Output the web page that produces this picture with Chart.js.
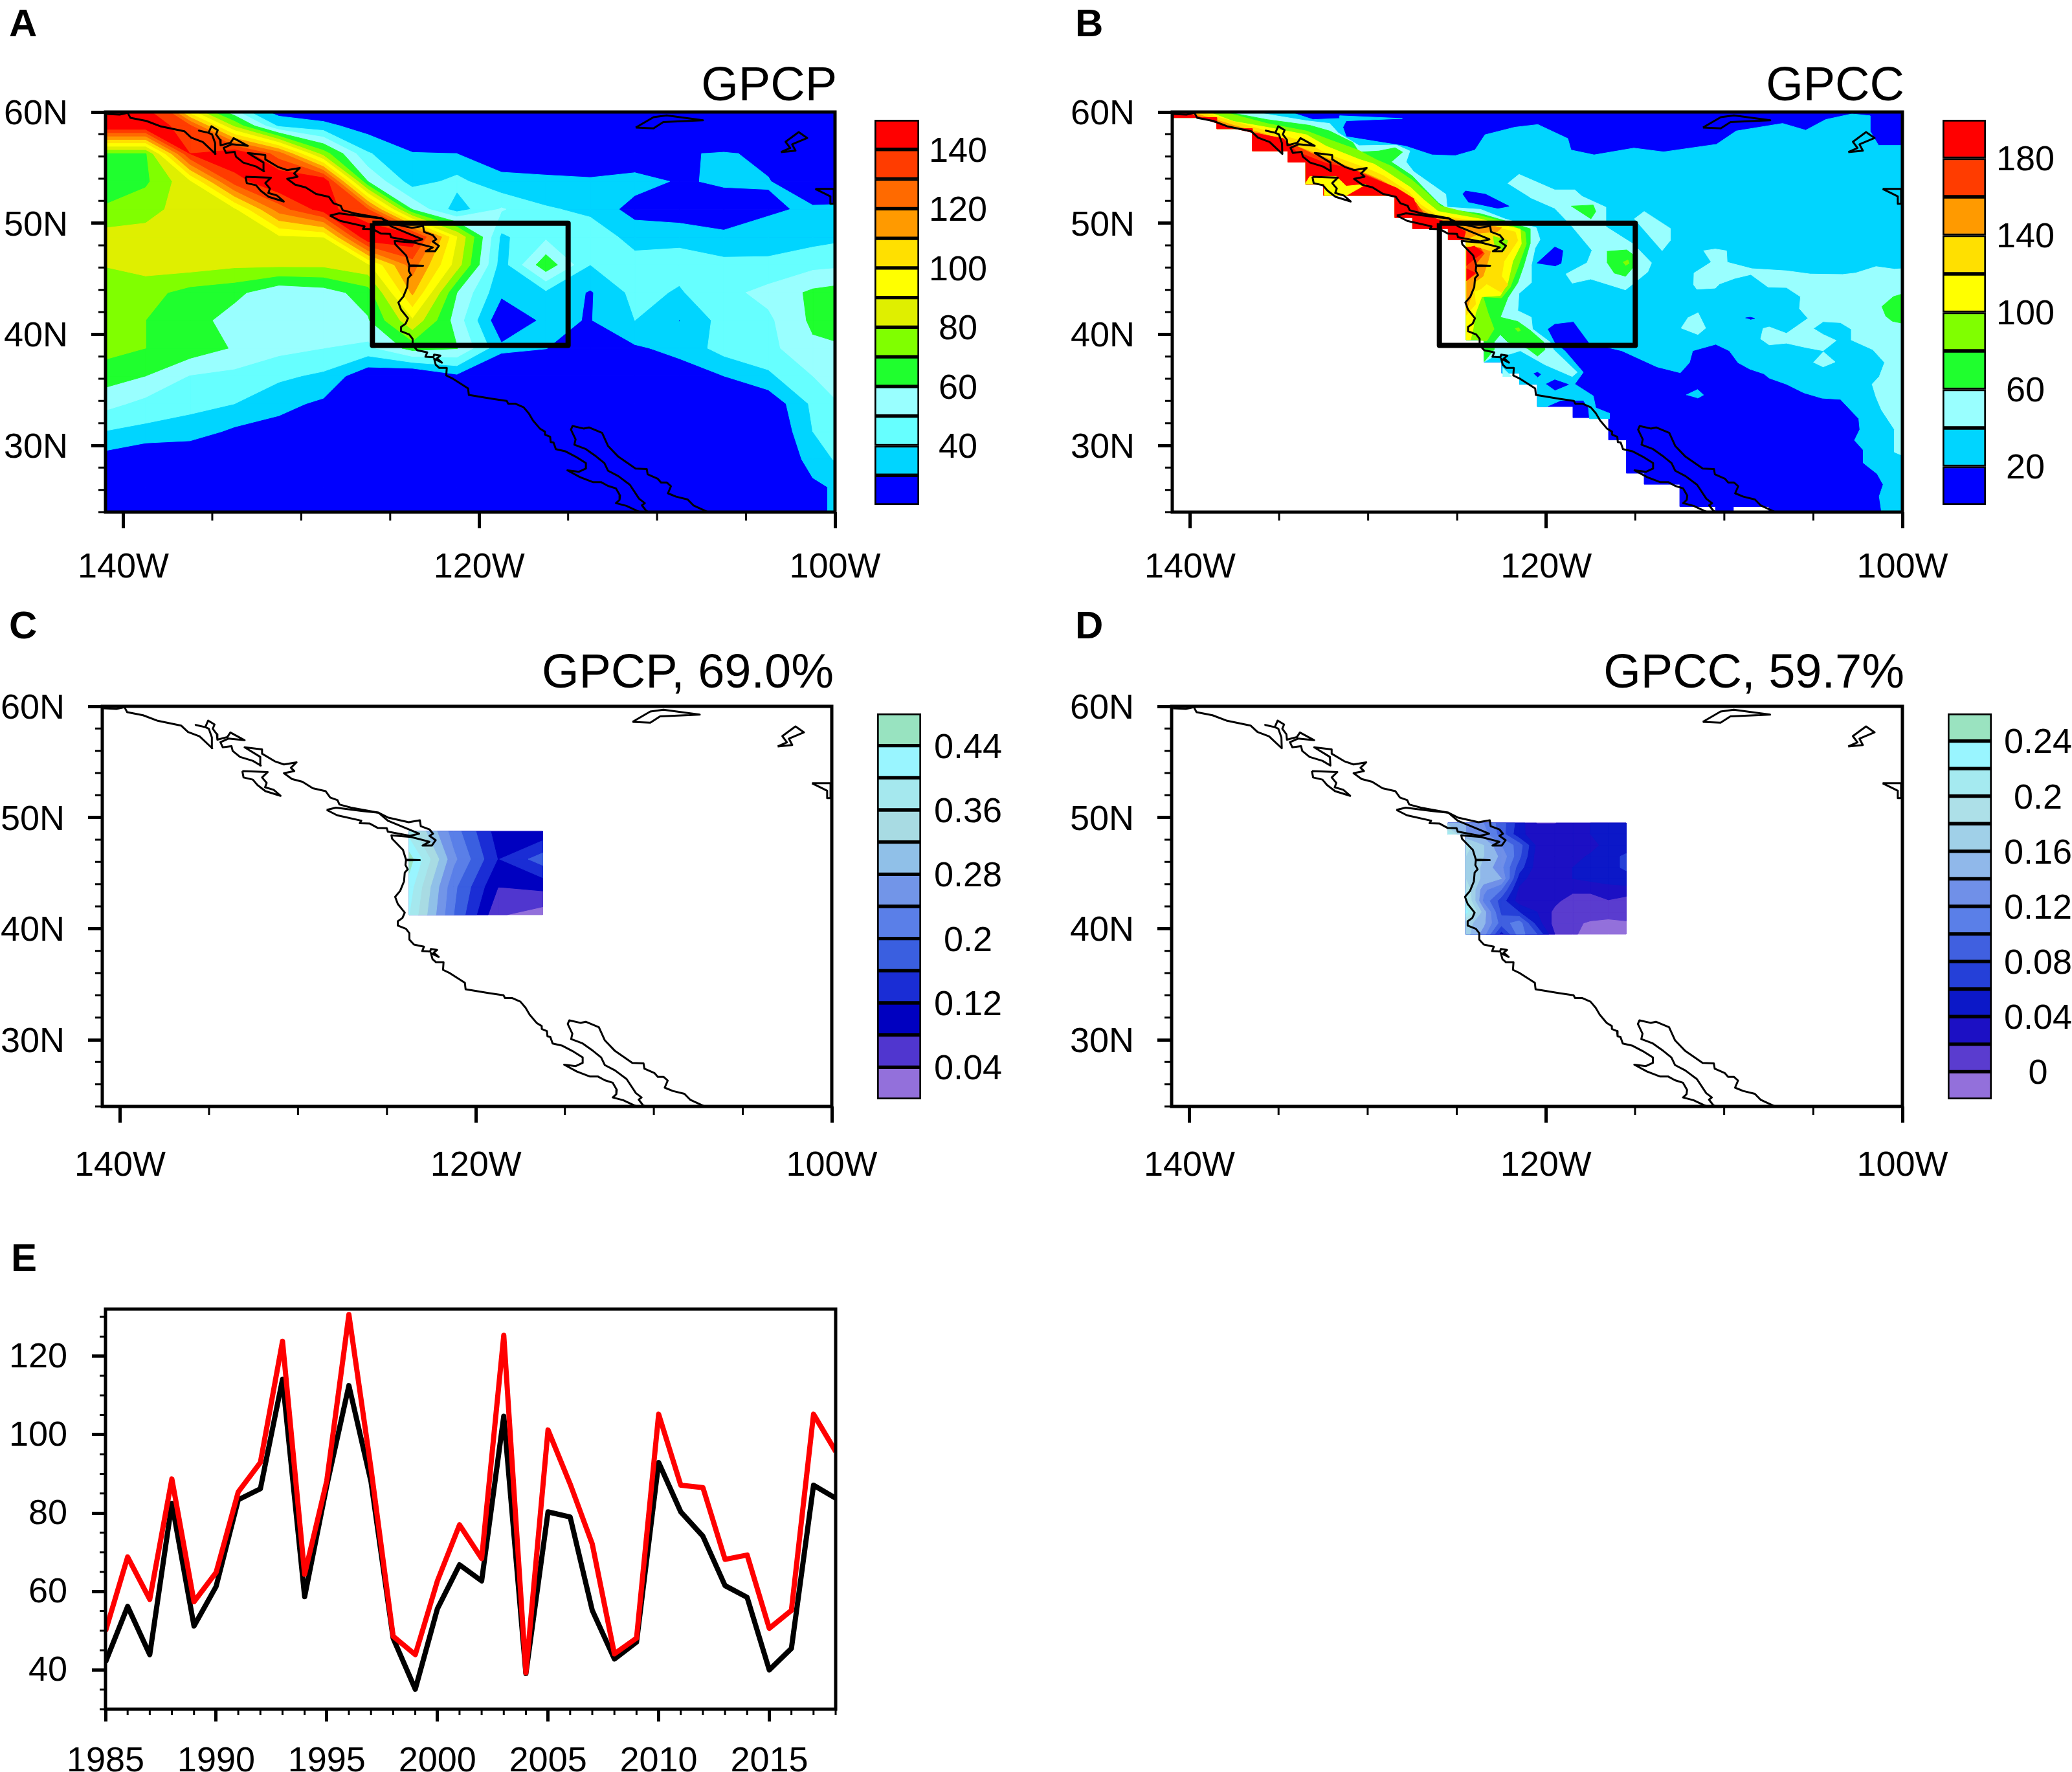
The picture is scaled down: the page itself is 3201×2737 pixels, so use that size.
<!DOCTYPE html>
<html>
<head>
<meta charset="utf-8">
<style>
  html, body { margin: 0; padding: 0; background: #fff; overflow: hidden; }
  canvas { position: absolute; }
</style>
<script src="https://cdn.jsdelivr.net/npm/chart.js@4"></script>
</head>
<body>
<script>
const FONT = '"Liberation Sans", Arial, sans-serif';

// axis ticks
const lonMajor = [-140, -120, -100];
const lonMinor = [-135, -130, -125, -115, -110, -105];
const latMajor = [30, 40, 50, 60];
const latMinor = [24, 26, 28, 32, 34, 36, 38, 42, 44, 46, 48, 52, 54, 56, 58];
const yearMajor = [1985, 1990, 1995, 2000, 2005, 2010, 2015];
const yearMinor = [1986, 1987, 1988, 1989, 1991, 1992, 1993, 1994, 1996, 1997, 1998, 1999, 2001, 2002, 2003, 2004, 2006, 2007, 2008, 2009, 2011, 2012, 2013, 2014, 2016, 2017, 2018];
const precipMajor = [40, 60, 80, 100, 120];
const precipMinor = [30, 35, 45, 50, 55, 65, 70, 75, 85, 90, 95, 105, 110, 115, 125, 130];

// time series (panel E)
const years = [1985, 1986, 1987, 1988, 1989, 1990, 1991, 1992, 1993, 1994, 1995, 1996, 1997, 1998, 1999, 2000, 2001, 2002, 2003, 2004, 2005, 2006, 2007, 2008, 2009, 2010, 2011, 2012, 2013, 2014, 2015, 2016, 2017, 2018];
const seriesRed = [49.9, 68.8, 58, 88.7, 57.4, 64.9, 85.4, 92.9, 123.8, 64.4, 88.2, 130.6, 91.3, 48.6, 43.9, 62.7, 77, 68.4, 125.3, 39.3, 101.2, 87.4, 72.1, 44.1, 48.1, 105.2, 87.1, 86.5, 68.2, 69.3, 50.6, 55.2, 105.2, 95.7];
const seriesBlack = [42, 56.2, 43.9, 82.5, 51.2, 61.3, 83.4, 86.2, 114.1, 58.7, 87, 112.5, 88, 48.1, 35.1, 55.6, 66.8, 62.7, 104.7, 39.1, 80.3, 79, 55.2, 42.8, 47.1, 92.9, 80.3, 74.1, 61.5, 58.5, 40, 45.5, 87.1, 83.8];

// colour levels
const levelsA = [30, 40, 50, 60, 70, 80, 90, 100, 110, 120, 130, 140];
const colorsA = ['#0000ff', '#00d5ff', '#66ffff', '#99ffff', '#1fff2e', '#80ff00', '#dfef00', '#ffff00', '#ffe000', '#ff9a00', '#ff6a00', '#ff3c00', '#ff0000'];
const ticksA = [40, 60, 80, 100, 120, 140];
const levelsB = [20, 40, 60, 80, 100, 120, 140, 160, 180];
const colorsB = ['#0000ff', '#00d5ff', '#99ffff', '#1fff2e', '#80ff00', '#ffff00', '#ffe000', '#ff9a00', '#ff3c00', '#ff0000'];
const ticksB = [20, 60, 100, 140, 180];
const levelsC = [0.04, 0.08, 0.12, 0.16, 0.2, 0.24, 0.28, 0.32, 0.36, 0.4, 0.44];
const colorsC = ['#9370db', '#5036cf', '#0000c0', '#1a2dd5', '#3a5fe0', '#5a7fe8', '#7295e8', '#90c0e8', '#a8dbe3', '#a5e8ee', '#99f5ff', '#98e3c0'];
const ticksC = [0.04, 0.12, 0.2, 0.28, 0.36, 0.44];
const levelsD = [0, 0.02, 0.04, 0.06, 0.08, 0.1, 0.12, 0.14, 0.16, 0.18, 0.2, 0.22, 0.24];
const colorsD = ['#9370db', '#5a3ccf', '#1c10c4', '#0c18c8', '#2540d8', '#4060e0', '#5a7fe8', '#7090e8', '#90b8ea', '#a0d0e8', '#ade0e8', '#a5eaf0', '#99f5ff', '#9ae3c0'];
const ticksD = [0, 0.04, 0.08, 0.12, 0.16, 0.2, 0.24];

// GPCP grid, panel A
const lonsA = [-141.25, -138.75, -136.25, -133.75, -131.25, -128.75, -126.25, -123.75, -121.25, -118.75, -116.25, -113.75, -111.25, -108.75, -106.25, -103.75, -101.25, -98.75];
const latsA = [61.25, 58.75, 56.25, 53.75, 51.25, 48.75, 46.25, 43.75, 41.25, 38.75, 36.25, 33.75, 31.25, 28.75, 26.25, 23.75];
const gridA = [
  [140, 135, 60, 30, 15, 14, 13, 12, 12, 12, 12, 12, 12, 12, 12, 12, 13, 14],
  [150, 150, 132, 78, 38, 33, 25, 20, 18, 15, 12, 12, 12, 12, 12, 13, 14, 15],
  [68, 68, 140, 150, 125, 75, 41, 30.5, 30, 26, 20, 18, 20, 29, 31, 28, 22, 20],
  [62, 68, 88, 135, 150, 150, 60, 35, 43, 32, 33, 32, 34.6, 28.7, 31.6, 30.4, 24, 22],
  [71, 77, 84, 88, 125, 145, 130, 59, 35, 51, 41, 38, 25.5, 22, 24, 29, 31, 32],
  [84, 83, 87, 89, 88, 90, 150, 148, 90, 38, 48, 45, 37, 38, 32, 33, 36, 39],
  [80.5, 84, 85, 82, 82, 82, 88, 125, 85, 35, 67, 40, 43, 43, 43, 43, 47, 49],
  [69.5, 74, 66, 63, 52, 55, 65, 112, 60, 32, 38, 29, 43, 39, 47, 53, 62, 66],
  [73, 70, 65, 55, 51, 52, 59, 88, 55, 22, 32, 29.5, 40, 29.8, 44, 48, 62, 66],
  [74, 70, 66, 59, 53, 50, 47, 64, 60.5, 32, 30.3, 22, 28.5, 33, 44, 47, 58, 60],
  [65, 60, 49.5, 47, 42, 38, 22, 17, 28, 21, 18, 15, 16, 25, 30, 38, 50, 62],
  [54, 47, 43, 40, 33, 28, 15, 15, 20, 15, 15, 15, 15, 15, 15, 22, 42, 55],
  [40, 37, 35, 28, 26, 20, 15, 15, 15, 15, 15, 15, 15, 15, 15, 18, 40, 50],
  [26, 20, 20, 18, 16, 15, 15, 15, 15, 15, 15, 15, 15, 15, 15, 12, 36, 45],
  [18, 15, 15, 15, 15, 15, 15, 15, 15, 15, 15, 15, 15, 15, 15, 12, 27, 36],
  [15, 15, 15, 15, 15, 15, 15, 15, 15, 15, 15, 15, 15, 15, 15, 12, 25, 40]
];

// regression pattern, panel C
const lonsC = [-123.75, -121.25, -118.75, -116.25];
const latsC = [48.75, 46.25, 43.75, 41.25];
const gridC = [
  [0.38, 0.22, 0.1, 0.09],
  [0.46, 0.25, 0.118, 0.18],
  [0.42, 0.21, 0.08, 0.09],
  [0.4, 0.2, 0.045, 0.02]
];

// regression pattern, panel D
const lonsD = [-125.5, -124.5, -123.5, -122.5, -121.5, -120.5, -119.5, -118.5, -117.5, -116.5, -115.5];
const latsD = [49.5, 48.5, 47.5, 46.5, 45.5, 44.5, 43.5, 42.5, 41.5, 40.5, 39.5];
const gridD = [
  [0.15, 0.14, 0.12, 0.09, 0.05, 0.019, 0.019, 0.03, 0.04, 0.04, 0.04],
  [0.22, 0.14, 0.13, 0.09, 0.045, 0.03, 0.03, 0.03, 0.04, 0.045, 0.045],
  [null, 0.19, 0.16, 0.12, 0.09, 0.035, 0.03, 0.03, 0.035, 0.045, 0.045],
  [null, 0.18, 0.16, 0.135, 0.085, 0.03, 0.03, 0.035, 0.042, 0.05, 0.065],
  [null, 0.18, 0.155, 0.125, 0.07, 0.03, 0.03, 0.04, 0.045, 0.05, 0.065],
  [null, 0.18, 0.155, 0.14, 0.05, 0.025, 0.03, 0.04, 0.045, 0.05, 0.048],
  [null, 0.2, 0.125, 0.1, 0.035, 0.025, 0.025, 0.025, 0.025, 0.03, 0.035],
  [null, 0.21, 0.115, 0.07, 0.03, 0.025, 0.025, 0.01, 0.01, 0.019, 0.01],
  [null, 0.23, 0.15, 0.075, 0.06, 0.04, 0.015, 0.01, 0.008, 0.007, 0.004],
  [null, 0.17, 0.145, 0.09, 0.11, 0.05, 0.012, 0.003, -0.002, -0.004, -0.001],
  [null, 0.17, 0.13, 0.05, 0.11, 0.08, 0.02, 0.002, -0.005, -0.005, -0.005]
];

// target box of panels A and B
const boxOutline = [[-126, 50], [-115, 50], [-115, 39], [-126, 39], [-126, 50]];

// coastline, lon/lat
const coastMain = [[-140.92, 59.83], [-140.21, 59.77], [-139.75, 59.92], [-139.6, 59.47], [-138.71, 59.2], [-137.93, 58.72], [-136.57, 58.27], [-136.18, 57.69], [-135.53, 57.3], [-134.82, 56.23], [-134.84, 57.2], [-135.01, 57.98], [-135.21, 58.13], [-135.75, 58.33], [-135.21, 58.13], [-135.05, 58.72], [-134.69, 58.37], [-134.79, 57.98], [-134.56, 57.49], [-134.53, 57], [-133.97, 57.24], [-133.8, 57.65], [-133, 56.95], [-133.91, 57.1], [-134.36, 56.77], [-134.23, 56.32], [-133.74, 56.42], [-133.67, 55.99], [-133.26, 55.45], [-132.54, 55.1], [-132.09, 54.67], [-132.12, 55.45], [-133, 56.32], [-132.02, 56.13], [-132.02, 55.74], [-131.31, 55.06], [-130.79, 54.77], [-130.08, 54.96], [-130.4, 54.47], [-130.21, 54.18], [-130.79, 53.99], [-130.34, 53.46], [-129.75, 53.21], [-129.17, 52.63], [-128.45, 52.37], [-128.19, 51.79], [-127.78, 51.56], [-127.67, 51.17], [-127.02, 50.88], [-125.47, 50.43], [-124.95, 50], [-123.78, 49.57], [-123.15, 49.75], [-123.1, 49.22], [-122.61, 48.93], [-122.41, 48.54], [-122.61, 48.35], [-122.26, 47.96], [-122.48, 47.47], [-123, 47.47], [-122.61, 47.82], [-123.65, 48.25], [-124.75, 48.39], [-124.71, 48.09], [-124.1, 47.08], [-123.93, 46.21], [-123.15, 46.17], [-123.93, 46.15], [-123.96, 45.72], [-123.83, 45.33], [-124, 45.04], [-124.04, 44.26], [-124.26, 43.39], [-124.54, 42.86], [-124.39, 42.22], [-124, 41.44], [-124.13, 40.96], [-124.39, 40.66], [-124.39, 40.27], [-123.93, 39.98], [-123.74, 39.59], [-123.74, 39.01], [-123.48, 38.56], [-122.92, 38.37], [-123.02, 37.98], [-122.57, 37.94], [-122.53, 38.17], [-122.18, 38.08], [-122.37, 37.84], [-122.09, 37.45], [-122.53, 37.8], [-122.44, 37.26], [-122.24, 36.97], [-121.82, 36.97], [-121.85, 36.29], [-121.46, 35.99], [-120.62, 35.12], [-120.58, 34.54], [-119.26, 34.2], [-118.45, 34.01], [-118.37, 33.76], [-117.98, 33.76], [-117.5, 33.43], [-117.21, 32.88], [-116.98, 32.26], [-116.59, 31.52], [-116.3, 31.23], [-116.3, 30.97], [-116.01, 30.78], [-115.98, 30.31], [-115.82, 30.26], [-115.69, 29.67], [-115.17, 29.48], [-114.58, 28.99], [-114, 28.41], [-114, 27.92], [-114.39, 27.63], [-115.04, 27.76], [-114.32, 27.14], [-113.61, 26.7], [-113.15, 26.7], [-112.76, 26.36], [-112.31, 26.13], [-112.08, 25.49], [-112.11, 25.1], [-112.31, 24.81], [-111.72, 24.56], [-111.14, 24.13], [-110.8, 23.9]];
const coastGulf = [[-110.36, 23.9], [-110.62, 24.13], [-110.85, 24.61], [-110.69, 24.81], [-111.01, 25.2], [-111.53, 26.46], [-112.18, 27.24], [-112.76, 27.73], [-112.96, 28.41], [-113.41, 28.99], [-114, 29.67], [-114.65, 30.06], [-114.58, 30.55], [-114.84, 31.42], [-114.75, 31.75], [-114.13, 31.52], [-113.83, 31.62], [-113.09, 31.13], [-112.76, 29.96], [-112.18, 28.99], [-111.21, 27.92], [-110.58, 27.88], [-110.53, 27.4], [-109.97, 27.01], [-109.78, 26.66], [-109.45, 26.66], [-109.22, 26.33], [-109.39, 25.69], [-108.93, 25.39], [-108.28, 25.14], [-107.96, 24.61], [-107.31, 24.13], [-106.92, 23.84]];
const coastVancouver = [[-128.39, 50.68], [-127.87, 50.88], [-126.37, 50.58], [-125.47, 50.43], [-124.95, 49.71], [-123.19, 48.54], [-123.71, 48.35], [-124.95, 48.73], [-125.01, 49.03], [-125.53, 49.07], [-125.98, 49.46], [-126.53, 49.48], [-126.44, 49.71], [-127.8, 50.2], [-128.39, 50.68]];
const coastHaida = [[-133.13, 54.18], [-131.7, 54.09], [-132.02, 53.6], [-131.76, 53.11], [-131.85, 52.72], [-131.37, 52.49], [-130.98, 51.95], [-131.83, 52.37], [-132.28, 52.92], [-132.54, 53.41], [-133.06, 53.6], [-133.13, 54.18]];
const lakeAthabasca = [[-111.2, 58.6], [-110.2, 58.53], [-109.65, 59.1], [-107.42, 59.26], [-109.46, 59.7], [-110.2, 59.53], [-111.2, 58.6]];
const lakeReindeer = [[-103.04, 56.39], [-102.22, 56.52], [-102.41, 57.09], [-101.56, 57.66], [-102.04, 58.19], [-102.78, 57.32], [-102.52, 56.76], [-103.04, 56.39]];
const lakeWinnipeg = [[-101.11, 53.08], [-100.07, 53.08], [-100.07, 51.74], [-100.26, 51.74], [-100.26, 52.41], [-100.55, 52.64], [-101.11, 53.08]];
const coastLines = [coastMain, coastGulf, coastVancouver, coastHaida, lakeAthabasca, lakeReindeer, lakeWinnipeg];

// GPCC contour regions, panel B, lon/lat
const stairsNorth = [[-124.5, 48.5], [-125.5, 48.5], [-125.5, 49.5], [-127.5, 49.5], [-127.5, 50.5], [-128.5, 50.5], [-128.5, 52.5], [-132.5, 52.5], [-132.5, 53.5], [-133.5, 53.5], [-133.5, 55.5], [-134.5, 55.5], [-134.5, 56.5], [-136.5, 56.5], [-136.5, 58.5], [-138.5, 58.5], [-138.5, 59.5], [-141, 59.5], [-141, 60]];
const stairsSouth = [[-120.5, 33.5], [-120.5, 35.5], [-121.5, 35.5], [-121.5, 36.5], [-122.5, 36.5], [-122.5, 37.5], [-123.5, 37.5], [-123.5, 39.5], [-124.5, 39.5]];
const maskB = [[-141, 60], [-100, 60], [-100, 24], [-107.5, 24], [-107.5, 24.5], [-109.5, 24.5], [-109.5, 24], [-110.5, 24], [-110.5, 24.5], [-112.5, 24.5], [-112.5, 26.5], [-114.5, 26.5], [-114.5, 27.5], [-115.5, 27.5], [-115.5, 30.5], [-116.5, 30.5], [-116.5, 32.5], [-118.5, 32.5], [-118.5, 33.5], ...stairsSouth, ...stairsNorth];
const cyanMainB = [[-134.39, 60], [-133.09, 59.32], [-131.6, 59.42], [-131.6, 59.66], [-128.08, 59.42], [-131.23, 59.21], [-131.42, 58.63], [-131.23, 57.78], [-127.89, 56.92], [-126.41, 56.14], [-125.11, 56.07], [-124, 56.58], [-123.44, 57.95], [-121.76, 58.63], [-120.47, 58.87], [-118.79, 57.61], [-118.61, 56.58], [-117.31, 56.14], [-115.08, 56.75], [-113.41, 56.41], [-110.44, 57.09], [-109.33, 58.29], [-106.73, 58.97], [-105.43, 58.36], [-104.31, 59.32], [-102.83, 59.83], [-101.82, 59.66], [-101.82, 58.29], [-101.34, 56.99], [-100, 56.99], [-100, 24], [-101.17, 24], [-101.3, 25.42], [-101.08, 26.48], [-101.42, 27.45], [-102.2, 28.43], [-102.2, 29.59], [-102.69, 30.46], [-102.39, 31.44], [-102.45, 32.41], [-103.48, 34.15], [-104.51, 34.25], [-105.54, 34.74], [-106.51, 35.51], [-107.48, 36.06], [-107.78, 36.45], [-108.57, 36.87], [-109.23, 37.45], [-109.72, 38.52], [-110.48, 39.1], [-111.78, 38.52], [-111.96, 37.45], [-112.47, 36.54], [-113.78, 37.07], [-115.76, 38.52], [-117.57, 39.2], [-118.47, 41.15], [-119.52, 40.95], [-119.93, 40.47], [-119.52, 39.2], [-118.96, 38.52], [-117.92, 36.58], [-118.4, 35.52], [-117.36, 34.45], [-117.22, 33.38], [-116.45, 32.89], [-116.45, 32.41], [-117.57, 32.4], [-117.63, 33.38], [-117.92, 34.06], [-119.17, 34.06], [-120, 33.48], ...stairsSouth, ...stairsNorth];
const blueSpotsB = [
  [[-124.69, 52.6], [-124.53, 52.89], [-123.41, 52.6], [-122.09, 51.53], [-122.72, 51.34], [-124.39, 51.92]],
  [[-120.52, 46.39], [-119.52, 47.85], [-119.07, 47.52], [-119.17, 46.39], [-119.52, 46.14]],
  [[-120.7, 36.45], [-120.49, 36.58], [-120.31, 36.39], [-120.49, 36.15]],
  [[-120, 35.52], [-119.52, 35.9], [-118.75, 35.48], [-119.52, 34.97]],
  [[-108.81, 41.47], [-108.54, 41.53], [-108.3, 41.43], [-108.54, 41.34]]
];
const cyanSpotB = [[-112.14, 34.54], [-111.5, 35.03], [-111.17, 34.54], [-111.5, 34.25]];
const paleSpotsB = [
  [[-122.16, 53.57], [-121.53, 54.39], [-119.52, 52.99], [-118.4, 52.99], [-117.99, 52.41], [-116.66, 51.44], [-116.66, 49.69], [-115.13, 48.14], [-114.09, 46.43], [-114.3, 45.61], [-115.55, 44], [-117.5, 44.97], [-118.54, 44.6], [-118.89, 45.42], [-117.71, 46.43], [-117.43, 47.55], [-118.54, 49.69], [-119.52, 51.34], [-120.91, 52.31]],
  [[-115.06, 50.37], [-114.5, 51.05], [-113.04, 49.53], [-113.04, 48.43], [-113.5, 47.51]],
  [[-111.17, 47.51], [-110.51, 47.67], [-109.88, 47.51], [-109.84, 46.48], [-108.45, 45.9], [-106.51, 45.71], [-105.17, 45.42], [-103.36, 45.38], [-102.63, 45.51], [-101.48, 46.09], [-100.45, 45.86], [-100, 45.9], [-100, 29.1], [-100.45, 29.4], [-100.45, 31.44], [-101.17, 33.18], [-101.48, 34.35], [-101.7, 35.51], [-101.3, 36.19], [-101, 37.45], [-101.66, 38.62], [-102.87, 39.49], [-102.87, 40.46], [-103.48, 41.05], [-104.45, 41.14], [-105, 40.52], [-104.45, 39.98], [-103.72, 39.44], [-104.45, 38.52], [-105.42, 38.81], [-106.51, 39.2], [-107.48, 39.05], [-107.96, 39.59], [-107.82, 40.52], [-107.48, 40.66], [-106.51, 40.08], [-105.3, 41.43], [-105.78, 42.31], [-105.72, 43.38], [-106.51, 44.21], [-107.54, 44.25], [-108.51, 45.38], [-109.42, 45.03], [-110.26, 44.54], [-110.51, 44.15], [-111.54, 44.06], [-111.72, 44.45], [-111.7, 45.51], [-110.75, 46.48]],
  [[-111.48, 41.96], [-111.05, 40.56], [-111.48, 39.98], [-112.42, 40.56], [-112.02, 41.53]],
  [[-104.45, 38.43], [-103.78, 37.51], [-104.45, 37.07], [-105, 37.49]],
  [[-122.45, 37], [-121.95, 36.2], [-122.45, 36.2]]
];
const paleCoastB = [[-136.43, 60], [-133.46, 59.21], [-132.16, 58.97], [-131.68, 58.12], [-130.51, 56.97], [-128.42, 57.03], [-127.66, 56.49], [-127.87, 55.51], [-127.45, 54.64], [-125.64, 52.6], [-125.57, 51.44], [-123.69, 51.24], [-122.3, 50.37], [-120.56, 49.59], [-120.35, 48.52], [-120.63, 47.75], [-120.84, 46.19], [-120.84, 44.64], [-121.53, 43.67], [-121.6, 42.12], [-120.84, 41.53], [-120.77, 40.47], [-119.79, 39.3], [-119.59, 38.62], [-118.26, 36.58], [-118.54, 36.2], [-120.07, 37.26], [-121.46, 38.52], [-122.02, 38.23], [-122.93, 38.04], [-123.5, 37.5], [-123.5, 39.5], [-124.5, 39.5], ...stairsNorth];
const greenCoastB = [[-137.92, 60], [-135.69, 59.32], [-133.28, 58.8], [-132.16, 58.29], [-130.86, 57.26], [-130.51, 56.39], [-129.4, 56.49], [-128.49, 56.78], [-128.07, 56.39], [-128.7, 55.51], [-127.52, 54.25], [-126.89, 53.18], [-126.06, 51.83], [-125.5, 51.24], [-123.69, 50.85], [-122.44, 50.27], [-120.91, 49.5], [-120.91, 48.14], [-121.26, 46.19], [-121.6, 44.64], [-122.16, 43.28], [-122.58, 41.53], [-121.6, 41.15], [-120.91, 40.37], [-120.14, 39.3], [-120.07, 38.62], [-120.49, 38.04], [-121.05, 38.72], [-122.16, 39.3], [-122.58, 39.98], [-122.93, 39.3], [-122.93, 38.62], [-123.48, 37.55], [-123.5, 39.5], [-124.5, 39.5], ...stairsNorth];
const greenSpotsB = [
  [[-118.61, 51.53], [-117.36, 51.63], [-117.22, 51.05], [-117.5, 50.37]],
  [[-116.59, 47.46], [-115.48, 47.59], [-115.13, 47.17], [-115.13, 46], [-115.55, 45.22], [-116.18, 45.51], [-116.59, 46.49]],
  [[-100, 43.63], [-100.51, 43.38], [-101.15, 42.5], [-100.93, 41.63], [-100.57, 41.18], [-100, 40.99]]
];
const limeSpotsB = [
  [[-115.69, 46.49], [-115.41, 46.68], [-115.34, 46.39], [-115.55, 46.19]],
  [[-121.75, 40.5], [-121.55, 40.6], [-121.45, 40.35], [-121.6, 40.25]]
];
const limeCoastB = [[-138.1, 60], [-135.69, 58.97], [-133.46, 58.29], [-132.16, 57.5], [-130.57, 56.58], [-129.54, 55.71], [-128.7, 55.13], [-127.52, 53.86], [-126.75, 52.8], [-125.92, 51.53], [-123.69, 50.66], [-122.3, 50.08], [-121.19, 49.2], [-121.12, 48.14], [-121.6, 46], [-122.02, 44.25], [-122.51, 43.28], [-123.55, 43.38], [-123.27, 41.92], [-122.93, 40.47], [-123.34, 39.4], [-123.9, 39.5], [-124.5, 39.5], ...stairsNorth];
const yellowCoastB = [[-138.96, 60], [-137.55, 59.15], [-135.69, 58.63], [-133.46, 57.95], [-132.35, 56.92], [-130.49, 55.73], [-129.67, 55.32], [-128.98, 54.64], [-127.59, 53.18], [-126.89, 52.12], [-126.06, 51.05], [-123.69, 50.37], [-122.58, 49.88], [-121.46, 49.46], [-121.4, 48.14], [-121.88, 46.58], [-122.16, 44.64], [-122.58, 43.48], [-123.62, 43.38], [-123.97, 41.92], [-124.11, 40.47], [-124.25, 39.5], [-124.5, 39.5], ...stairsNorth];
const goldCoastB = [[-139.48, 60], [-137.18, 58.97], [-135.32, 58.12], [-133.46, 57.26], [-132.35, 56.24], [-130.86, 55.38], [-129.81, 54.74], [-129.12, 54.25], [-127.73, 52.8], [-127.03, 51.63], [-126.2, 50.76], [-123.69, 50.08], [-123, 49.69], [-121.74, 49.2], [-121.6, 48.43], [-122.37, 46.58], [-122.51, 45.22], [-122.16, 44.45], [-122.51, 43.77], [-123.34, 44.54], [-123.69, 44.06], [-124.04, 43.86], [-123.97, 42.7], [-124.39, 41.92], [-124.5, 41.7], ...stairsNorth];
const orangeCoastB = [[-139.96, 60], [-137.55, 58.8], [-135.88, 58.05], [-133.46, 56.58], [-129.95, 54.35], [-129.26, 53.86], [-127.87, 52.6], [-127.17, 51.44], [-126.33, 50.56], [-123.69, 49.98], [-122.51, 49.59], [-122.72, 49.26], [-123.69, 49.11], [-124.53, 48.52], ...stairsNorth];
const orangeSouthB = [[-124.48, 47.85], [-123.97, 47.85], [-123.13, 47.46], [-123.27, 46.58], [-123.55, 45.22], [-123.97, 44.74], [-124.11, 43.86], [-124.48, 42.21]];
const scarletCoastB = [[-140.22, 60], [-137.84, 58.63], [-136.14, 58.05], [-134.02, 56.92], [-132.9, 56.07], [-130.02, 54.31], [-129.4, 53.86], [-128.14, 52.89], [-127.31, 51.83], [-126.75, 50.56], [-125.15, 49.88], [-124.53, 49.3], [-124.66, 48.5], ...stairsNorth.slice(1)];
const scarletSouthB = [[-124.48, 47.85], [-123.69, 47.75], [-123.48, 47.26], [-123.97, 46.29], [-123.9, 45.51], [-124.48, 44.83]];
const redCoastB = [[-140.44, 60], [-138.1, 58.8], [-136.43, 58.12], [-134.76, 57.61], [-134.02, 56.41], [-132.35, 55.38], [-130.86, 54.87], [-130.09, 54.25], [-128.42, 53.18], [-127.45, 52.21], [-127.17, 51.05], [-126.33, 50.47], [-125.22, 49.88], [-124.53, 49.2], [-124.66, 48.5], ...stairsNorth.slice(1)];
const redSouthB = [
  [[-124.48, 47.75], [-124.04, 47.94], [-123.55, 47.36], [-124.04, 46.78], [-124.48, 46.19]],
  [[-124.48, 45.9], [-123.97, 45.51], [-124.48, 44.83]]
];
const yellowPatchB = [[-133.54, 53.5], [-133.28, 54.19], [-131.79, 54.19], [-131.23, 53.33], [-130.12, 53.5], [-131.23, 52.48], [-132.46, 52.48], [-132.46, 53.5]];
const limePatchB = [[-122.99, 48.82], [-122.16, 48.43], [-122.37, 47.46], [-122.93, 48.14]];

const toXY = pts => pts.map(p => ({ x: p[0], y: p[1] }));

function makeCanvas(left, top, width, height) {
  const c = document.createElement('canvas');
  c.width = width;
  c.height = height;
  c.style.left = left + 'px';
  c.style.top = top + 'px';
  c.style.width = width + 'px';
  c.style.height = height + 'px';
  document.body.appendChild(c);
  return c;
}

// one polygon layer, filled inside its own outline
function polyLayer(points, color) {
  return {
    data: points,
    showLine: true,
    fill: 'shape',
    backgroundColor: color,
    borderColor: color,
    borderWidth: 1,
    pointRadius: 0
  };
}

// filled contours of a gridded field: for each level, the part of every
// grid cell where the value reaches that level
function contourLayers(lons, lats, grid, levels, colors) {
  const bands = [-Infinity, ...levels];
  return bands.map((level, k) => {
    const pts = [];
    for (let j = 0; j < lats.length - 1; j++) {
      for (let i = 0; i < lons.length - 1; i++) {
        const corners = [
          [lons[i], lats[j], grid[j][i]],
          [lons[i + 1], lats[j], grid[j][i + 1]],
          [lons[i + 1], lats[j + 1], grid[j + 1][i + 1]],
          [lons[i], lats[j + 1], grid[j + 1][i]]
        ];
        if (corners.some(c => c[2] === null)) continue;
        const cell = [];
        corners.forEach((a, n) => {
          const b = corners[(n + 1) % 4];
          if (a[2] >= level) cell.push({ x: a[0], y: a[1] });
          if ((a[2] >= level) !== (b[2] >= level)) {
            const t = (level - a[2]) / (b[2] - a[2]);
            cell.push({ x: a[0] + t * (b[0] - a[0]), y: a[1] + t * (b[1] - a[1]) });
          }
        });
        if (cell.length) {
          pts.push(...cell, cell[0], { x: null, y: null });
        }
      }
    }
    return polyLayer(pts, colors[k]);
  });
}

function outlineLayers(lines, width) {
  return lines.map(line => ({
    data: toXY(line),
    showLine: true,
    fill: false,
    borderColor: '#000',
    borderWidth: width,
    borderJoinStyle: 'round',
    pointRadius: 0
  }));
}

function axisOptions(o) {
  return {
    type: 'linear',
    position: o.position,
    min: o.min,
    max: o.max,
    afterBuildTicks: axis => { axis.ticks = o.major.map(v => ({ value: v })); },
    afterFit: s => { if (o.position === 'left') s.width = o.size; else s.height = o.size; },
    ticks: {
      autoSkip: false,
      maxRotation: 0,
      minRotation: 0,
      padding: o.padding,
      labelOffset: o.labelOffset || 0,
      color: '#000',
      font: { family: FONT, size: 54 },
      callback: o.label
    },
    grid: { drawOnChartArea: false, tickLength: o.tick, tickWidth: 5, tickColor: '#000', color: '#000' },
    border: { display: false }
  };
}

// frame, minor ticks, title and panel letter
function panelPlugin(p) {
  return {
    id: 'panelDecor',
    afterDatasetsDraw(chart) {
      const { ctx, chartArea: a, scales } = chart;
      ctx.save();
      ctx.strokeStyle = '#000';
      ctx.lineWidth = 3;
      ctx.beginPath();
      p.minorX.forEach(v => {
        const x = scales.x.getPixelForValue(v);
        ctx.moveTo(x, a.bottom);
        ctx.lineTo(x, a.bottom + p.minorLenX);
      });
      p.minorY.forEach(v => {
        const y = scales.y.getPixelForValue(v);
        ctx.moveTo(a.left, y);
        ctx.lineTo(a.left - p.minorLenY, y);
      });
      ctx.stroke();
      ctx.lineWidth = 5;
      ctx.strokeRect(a.left, a.top, a.right - a.left, a.bottom - a.top);
      ctx.fillStyle = '#000';
      ctx.textBaseline = 'alphabetic';
      if (p.title) {
        ctx.textAlign = 'right';
        ctx.font = '74px ' + FONT;
        ctx.fillText(p.title, a.right + 3, p.titleY);
      }
      ctx.textAlign = 'left';
      ctx.font = 'bold 60px ' + FONT;
      ctx.fillText(p.letter, p.letterX, p.letterY);
      ctx.restore();
    }
  };
}

function mapChart(p, layers) {
  const axisW = p.L - p.left, axisH = 125;
  const rightPad = 110;
  const width = p.R + rightPad - p.left;
  const height = p.B + axisH - p.top;
  // painter's order: later layers on top
  layers.forEach((l, i) => { l.order = -i; });
  return new Chart(makeCanvas(p.left, p.top, width, height), {
    type: 'scatter',
    data: { datasets: layers },
    options: {
      responsive: false,
      animation: false,
      devicePixelRatio: 1,
      events: [],
      layout: { padding: { left: 0, right: rightPad, top: p.T - p.top, bottom: 0 } },
      plugins: { legend: { display: false }, tooltip: { enabled: false } },
      scales: {
        x: axisOptions({ position: 'bottom', min: p.lonMin, max: -100, major: lonMajor, size: axisH, padding: p.labelPad, tick: 25, label: v => Math.abs(v) + 'W' }),
        y: axisOptions({ position: 'left', min: 24, max: 60, major: latMajor, size: axisW, padding: 36, tick: 22, labelOffset: 4, label: v => v + 'N' })
      }
    },
    plugins: [panelPlugin({ ...p, minorX: lonMinor, minorY: latMinor, minorLenX: 13, minorLenY: 11 })]
  });
}

function colorBar(b, levels, colors, ticks) {
  const step = levels[1] - levels[0];
  const edges = [levels[0] - step, ...levels, levels[levels.length - 1] + step];
  const pad = 60, axisW = 150;
  const barW = b.right - b.left;
  return new Chart(makeCanvas(b.left, b.top - pad, barW + axisW, b.bottom - b.top + pad * 2), {
    type: 'bar',
    data: {
      labels: [''],
      datasets: colors.map((c, i) => ({
        data: [[edges[i], edges[i + 1]]],
        backgroundColor: c,
        borderColor: '#000',
        borderWidth: 3,
        borderSkipped: false,
        grouped: false,
        categoryPercentage: 1,
        barPercentage: 1
      }))
    },
    options: {
      responsive: false,
      animation: false,
      devicePixelRatio: 1,
      events: [],
      layout: { padding: { top: pad, bottom: pad, left: 0, right: 0 } },
      plugins: { legend: { display: false }, tooltip: { enabled: false } },
      scales: {
        x: { display: false },
        y: {
          position: 'right',
          min: edges[0],
          max: edges[edges.length - 1],
          afterBuildTicks: axis => { axis.ticks = ticks.map(v => ({ value: v })); },
          afterFit: s => { s.width = axisW; },
          grid: { display: false },
          border: { display: false },
          ticks: {
            autoSkip: false,
            crossAlign: 'center',
            padding: b.padding,
            labelOffset: 4,
            color: '#000',
            font: { family: FONT, size: 54 },
            callback: v => String(v)
          }
        }
      }
    }
  });
}

function panelB() {
  const layers = [
    polyLayer(toXY(maskB), colorsB[0]),
    polyLayer(toXY(cyanMainB), colorsB[1]),
    ...blueSpotsB.map(s => polyLayer(toXY(s), colorsB[0])),
    polyLayer(toXY(cyanSpotB), colorsB[1]),
    ...paleSpotsB.map(s => polyLayer(toXY(s), colorsB[2])),
    polyLayer(toXY(paleCoastB), colorsB[2]),
    ...greenSpotsB.map(s => polyLayer(toXY(s), colorsB[3])),
    polyLayer(toXY(greenCoastB), colorsB[3]),
    ...limeSpotsB.map(s => polyLayer(toXY(s), colorsB[4])),
    polyLayer(toXY(limeCoastB), colorsB[4]),
    polyLayer(toXY(yellowCoastB), colorsB[5]),
    polyLayer(toXY(goldCoastB), colorsB[6]),
    polyLayer(toXY(orangeCoastB), colorsB[7]),
    polyLayer(toXY(orangeSouthB), colorsB[7]),
    polyLayer(toXY(scarletCoastB), colorsB[8]),
    polyLayer(toXY(scarletSouthB), colorsB[8]),
    polyLayer(toXY(redCoastB), colorsB[9]),
    ...redSouthB.map(s => polyLayer(toXY(s), colorsB[9])),
    polyLayer(toXY(yellowPatchB), colorsB[5]),
    polyLayer(toXY(limePatchB), colorsB[4])
  ];
  return layers;
}

mapChart(
  { left: 0, top: 0, L: 163, R: 1290, T: 173, B: 791, lonMin: -141, labelPad: 29, title: 'GPCP', titleY: 155, letter: 'A', letterX: 14, letterY: 56 },
  [...contourLayers(lonsA, latsA, gridA, levelsA, colorsA), ...outlineLayers(coastLines, 3), ...outlineLayers([boxOutline], 8)]
);
mapChart(
  { left: 1620, top: 0, L: 1811, R: 2939, T: 173, B: 791, lonMin: -141, labelPad: 29, title: 'GPCC', titleY: 155, letter: 'B', letterX: 41, letterY: 56 },
  [...panelB(), ...outlineLayers(coastLines, 3), ...outlineLayers([boxOutline], 8)]
);
mapChart(
  { left: 0, top: 920, L: 158, R: 1285, T: 1091, B: 1709, lonMin: -141, labelPad: 35, title: 'GPCP, 69.0%', titleY: 142, letter: 'C', letterX: 14, letterY: 66 },
  [...contourLayers(lonsC, latsC, gridC, levelsC, colorsC), ...outlineLayers(coastLines, 3)]
);
mapChart(
  { left: 1620, top: 920, L: 1810, R: 2939, T: 1091, B: 1709, lonMin: -141, labelPad: 35, title: 'GPCC, 59.7%', titleY: 142, letter: 'D', letterX: 41, letterY: 66 },
  [...contourLayers(lonsD, latsD, gridD, levelsD, colorsD), ...outlineLayers(coastLines, 3)]
);

colorBar({ left: 1351, right: 1420, top: 185, bottom: 780, padding: 7 }, levelsA, colorsA, ticksA);
colorBar({ left: 3001, right: 3068, top: 185, bottom: 780, padding: 8 }, levelsB, colorsB, ticksB);
colorBar({ left: 1355, right: 1423, top: 1102, bottom: 1698, padding: 12 }, levelsC, colorsC, ticksC);
colorBar({ left: 3009, right: 3077, top: 1102, bottom: 1698, padding: 11 }, levelsD, colorsD, ticksD);

// panel E
new Chart(makeCanvas(0, 1900, 1400, 837), {
  type: 'line',
  data: {
    datasets: [
      { data: years.map((y, i) => ({ x: y, y: seriesRed[i] })), borderColor: '#ff0000', borderWidth: 8, pointRadius: 0, tension: 0, borderJoinStyle: 'round' },
      { data: years.map((y, i) => ({ x: y, y: seriesBlack[i] })), borderColor: '#000', borderWidth: 8, pointRadius: 0, tension: 0, borderJoinStyle: 'round' }
    ]
  },
  options: {
    responsive: false,
    animation: false,
    devicePixelRatio: 1,
    events: [],
    layout: { padding: { left: 0, right: 1400 - 1291, top: 2022 - 1900, bottom: 0 } },
    plugins: { legend: { display: false }, tooltip: { enabled: false } },
    scales: {
      x: axisOptions({ position: 'bottom', min: 1985, max: 2018, major: yearMajor, size: 97, padding: 30, tick: 19, label: v => String(v) }),
      y: axisOptions({ position: 'left', min: 30, max: 132, major: precipMajor, size: 163, padding: 38, tick: 21, labelOffset: 2, label: v => String(v) })
    }
  },
  plugins: [panelPlugin({ minorX: yearMinor, minorY: precipMinor, minorLenX: 9, minorLenY: 9, letter: 'E', letterX: 17, letterY: 63 })]
});
</script>
</body>
</html>
